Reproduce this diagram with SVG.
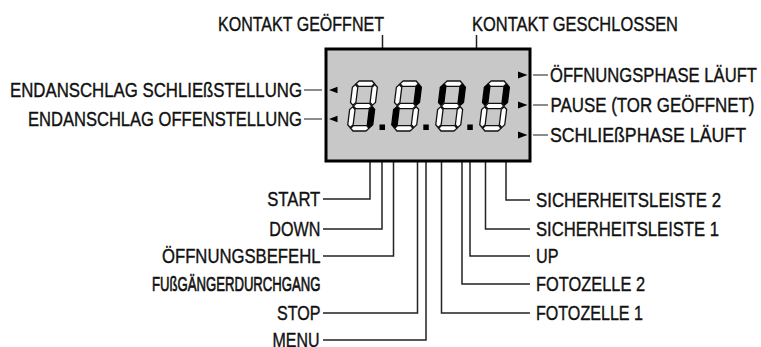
<svg xmlns="http://www.w3.org/2000/svg" width="761" height="347" viewBox="0 0 761 347">
<style>
text{font-family:"Liberation Sans",Arial,sans-serif;font-size:21px;fill:#111;stroke:#111;stroke-width:0.4}
.b{stroke-width:0.7}
.ln{fill:none;stroke:#222;stroke-width:1.5}
.lg{fill:none;stroke:#666;stroke-width:1.5}
.off{fill:#fff;stroke:#111;stroke-width:1.3}
.on{fill:#000;stroke:#000;stroke-width:1.3}
.arr{fill:#000}
</style>
<defs>
<polygon id="sa" points="3.3,-47.3 6,-50 19,-50 21.7,-47.3 19,-44.6 6,-44.6"/>
<polygon id="sg" points="3.3,-25 6,-27.7 19,-27.7 21.7,-25 19,-22.3 6,-22.3"/>
<polygon id="sd" points="3.3,-2.7 6,-5.4 19,-5.4 21.7,-2.7 19,0 6,0"/>
<polygon id="sf" points="2.7,-46.5 5.4,-43.8 5.4,-28.5 2.7,-25.8 0,-28.5 0,-43.8"/>
<polygon id="sb" points="22.3,-46.5 25,-43.8 25,-28.5 22.3,-25.8 19.6,-28.5 19.6,-43.8"/>
<polygon id="se" points="2.7,-24.2 5.4,-21.5 5.4,-6.2 2.7,-3.5 0,-6.2 0,-21.5"/>
<polygon id="sc" points="22.3,-24.2 25,-21.5 25,-6.2 22.3,-3.5 19.6,-6.2 19.6,-21.5"/>
</defs>

<g id="connectors">
<polyline class="ln" points="382.5,35 382.5,114 375,114"/>
<polyline class="ln" points="476.5,35 476.5,94 485,94"/>
<line class="lg" x1="304" y1="90" x2="322" y2="90"/>
<line class="lg" x1="304" y1="119" x2="322" y2="119"/>
<line class="lg" x1="533" y1="75" x2="548" y2="75"/>
<line class="lg" x1="533" y1="105" x2="548" y2="105"/>
<line class="lg" x1="533" y1="135" x2="548" y2="135"/>
<polyline class="ln" points="370,126 370,199 323,199"/>
<polyline class="ln" points="382,130 382,229 323,229"/>
<polyline class="ln" points="393.5,127 393.5,256 323,256"/>
<polyline class="ln" points="417.5,129 417.5,313 323,313"/>
<polyline class="ln" points="426,130 426,340 323,340"/>
<polyline class="ln" points="506,127 506,200 530,200"/>
<polyline class="ln" points="485.5,127 485.5,229 530,229"/>
<polyline class="ln" points="470,130 470,256 530,256"/>
<polyline class="ln" points="462,128 462,284 530,284"/>
<polyline class="ln" points="441.5,128 441.5,313 530,313"/>
</g>

<g id="display">
<rect x="326" y="49" width="204" height="112" fill="#c8c8c8" stroke="#000" stroke-width="3"/>
<polygon class="arr" points="329,90 337.5,86.8 337.5,93.2"/>
<polygon class="arr" points="329,119 337.5,115.8 337.5,122.2"/>
<polygon class="arr" points="527.5,75 518,71.5 518,78.5"/>
<polygon class="arr" points="527.5,105 518,101.5 518,108.5"/>
<polygon class="arr" points="527.5,135 518,131.5 518,138.5"/>
<rect x="379.5" y="124.5" width="5.5" height="5.5" fill="#000"/>
<rect x="423.3" y="124.5" width="5.5" height="5.5" fill="#000"/>
<rect x="467.3" y="124.5" width="5.5" height="5.5" fill="#000"/>
</g>

<g id="digit1" transform="translate(347,131) skewX(-7)">
<use href="#sa" class="off"/><use href="#sb" class="off"/><use href="#sc" class="on"/><use href="#sd" class="off"/><use href="#se" class="off"/><use href="#sf" class="off"/><use href="#sg" class="off"/>
</g>
<g id="digit2" transform="translate(391,131) skewX(-7)">
<use href="#sa" class="off"/><use href="#sb" class="on"/><use href="#sc" class="off"/><use href="#sd" class="off"/><use href="#se" class="on"/><use href="#sf" class="off"/><use href="#sg" class="off"/>
</g>
<g id="digit3" transform="translate(435,131) skewX(-7)">
<use href="#sa" class="off"/><use href="#sb" class="on"/><use href="#sc" class="off"/><use href="#sd" class="off"/><use href="#se" class="off"/><use href="#sf" class="on"/><use href="#sg" class="off"/>
</g>
<g id="digit4" transform="translate(479,131) skewX(-7)">
<use href="#sa" class="off"/><use href="#sb" class="on"/><use href="#sc" class="off"/><use href="#sd" class="off"/><use href="#se" class="off"/><use href="#sf" class="on"/><use href="#sg" class="off"/>
</g>

<g id="lbl-kontakt-geoeffnet"><text transform="scale(0.8 1)" x="272.5" y="31.5" textLength="207.5" lengthAdjust="spacingAndGlyphs">KONTAKT GEÖFFNET</text></g>
<g id="lbl-kontakt-geschlossen"><text transform="scale(0.8 1)" x="590" y="31.5" textLength="257.5" lengthAdjust="spacingAndGlyphs">KONTAKT GESCHLOSSEN</text></g>
<g id="lbl-endanschlag-schliess"><text transform="scale(0.8 1)" x="12.5" y="97" textLength="365" lengthAdjust="spacingAndGlyphs">ENDANSCHLAG SCHLIEßSTELLUNG</text></g>
<g id="lbl-endanschlag-offen"><text transform="scale(0.8 1)" x="35" y="126" textLength="342.5" lengthAdjust="spacingAndGlyphs">ENDANSCHLAG OFFENSTELLUNG</text></g>
<g id="lbl-oeffnungsphase"><text transform="scale(0.8 1)" x="687.5" y="82" textLength="258.75" lengthAdjust="spacingAndGlyphs">ÖFFNUNGSPHASE LÄUFT</text></g>
<g id="lbl-pause"><text transform="scale(0.8 1)" x="688.1" y="112" textLength="255" lengthAdjust="spacingAndGlyphs">PAUSE (TOR GEÖFFNET)</text></g>
<g id="lbl-schliessphase"><text transform="scale(0.8 1)" x="687.5" y="142" textLength="245" lengthAdjust="spacingAndGlyphs">SCHLIEßPHASE LÄUFT</text></g>
<g id="lbl-start"><text transform="scale(0.8 1)" x="334.1" y="206.5" textLength="66.25" lengthAdjust="spacingAndGlyphs">START</text></g>
<g id="lbl-down"><text transform="scale(0.8 1)" x="336.6" y="236" textLength="63.75" lengthAdjust="spacingAndGlyphs">DOWN</text></g>
<g id="lbl-oeffnungsbefehl"><text transform="scale(0.8 1)" x="202.5" y="263" textLength="198.1" lengthAdjust="spacingAndGlyphs">ÖFFNUNGSBEFEHL</text></g>
<g id="lbl-fussgaenger"><text class="b" transform="scale(0.8 1)" x="190" y="291" textLength="210.6" lengthAdjust="spacingAndGlyphs">FUßGÄNGERDURCHGANG</text></g>
<g id="lbl-stop"><text transform="scale(0.8 1)" x="346.25" y="320" textLength="54.4" lengthAdjust="spacingAndGlyphs">STOP</text></g>
<g id="lbl-menu"><text transform="scale(0.8 1)" x="340.6" y="347" textLength="58.75" lengthAdjust="spacingAndGlyphs">MENU</text></g>
<g id="lbl-sl2"><text transform="scale(0.8 1)" x="670" y="207" textLength="231.25" lengthAdjust="spacingAndGlyphs">SICHERHEITSLEISTE 2</text></g>
<g id="lbl-sl1"><text transform="scale(0.8 1)" x="670" y="236" textLength="228.75" lengthAdjust="spacingAndGlyphs">SICHERHEITSLEISTE 1</text></g>
<g id="lbl-up"><text transform="scale(0.8 1)" x="670" y="263" textLength="28.1" lengthAdjust="spacingAndGlyphs">UP</text></g>
<g id="lbl-fz2"><text transform="scale(0.8 1)" x="670" y="291" textLength="136.25" lengthAdjust="spacingAndGlyphs">FOTOZELLE 2</text></g>
<g id="lbl-fz1"><text transform="scale(0.8 1)" x="670" y="320" textLength="133.75" lengthAdjust="spacingAndGlyphs">FOTOZELLE 1</text></g>
</svg>
